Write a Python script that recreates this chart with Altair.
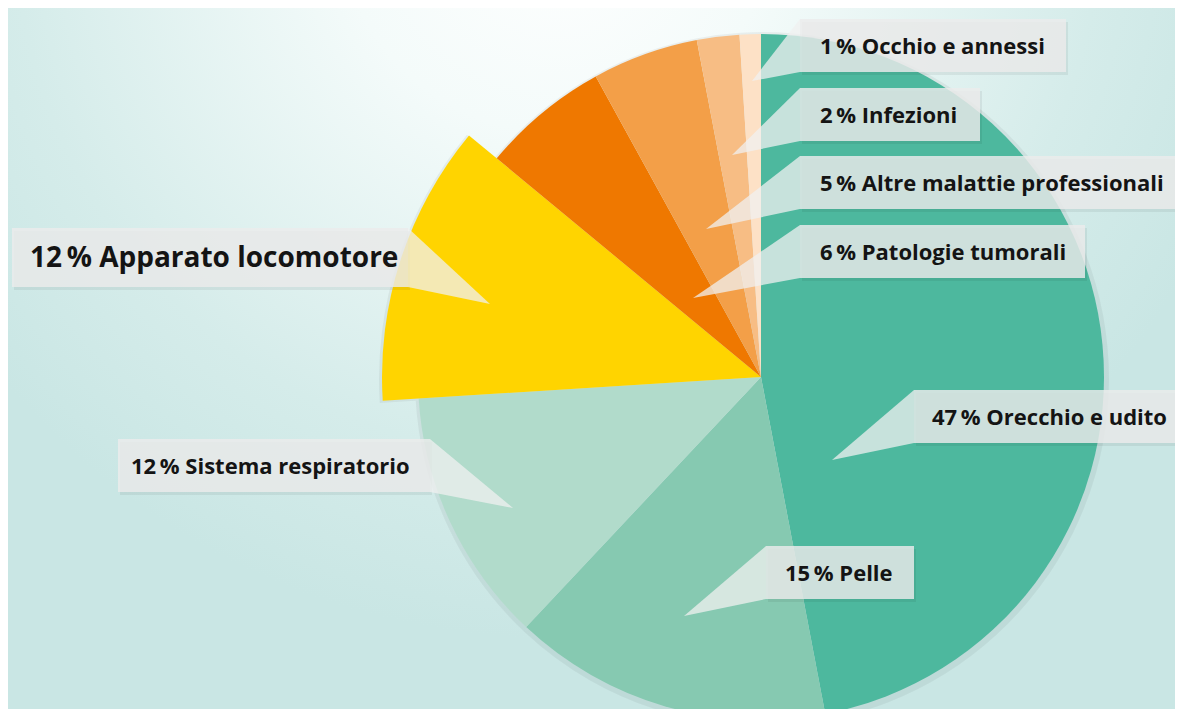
import altair as alt
import pandas as pd

# ---------------- data ----------------
categories = ["Orecchio e udito", "Pelle", "Sistema respiratorio", "Apparato locomotore",
              "Patologie tumorali", "Altre malattie professionali", "Infezioni", "Occhio e annessi"]
percent = [47, 15, 12, 12, 6, 5, 2, 1]
highlighted = ["Apparato locomotore"]

# ---------------- style / layout ----------------
colors = ["#4db89e", "#86c9b1", "#b1dbcb", "#ffd400",
          "#ef7800", "#f39f48", "#f7bd84", "#fde1c6"]
W, H = 1167, 701
CX, CY = 761, 377          # pie centre (page px)
R, R_EXPLODE = 343, 379

# label box layout: box x0, x1, y0, y1, pointer tip x, y, text x, font size
label_layout = {
    "Orecchio e udito":             (914, 1183, 390, 443, 832, 460, 932, 22),
    "Pelle":                        (766, 914, 546, 599, 684, 616, 785, 22),
    "Sistema respiratorio":         (118, 430, 439, 492, 513, 508, 131, 22),
    "Apparato locomotore":          (12, 408, 228, 287, 490, 304, 30, 28),
    "Patologie tumorali":           (800, 1085, 225, 278, 693, 298, 820, 22),
    "Altre malattie professionali": (800, 1182, 156, 209, 706, 229, 820, 22),
    "Infezioni":                    (800, 980, 88, 141, 732, 155, 820, 22),
    "Occhio e annessi":             (800, 1066, 19, 72, 752, 81, 820, 22),
}

pie = pd.DataFrame({"cat": categories, "pct": percent})
pie["end"] = pie["pct"].cumsum()
pie["start"] = pie["end"] - pie["pct"]
pie["r"] = [R_EXPLODE if c in highlighted else R for c in categories]
pie["rs"] = pie["r"] + 4

xs = alt.Scale(domain=[8, 8 + W])
ys = alt.Scale(domain=[8, 8 + H], reverse=True)
ts = alt.Scale(domain=[0, sum(percent)])

boxes, tris, texts = [], [], []
for c, p in zip(categories, percent):
    x0, x1, y0, y1, tx, ty, textx, fs = label_layout[c]
    boxes.append({"cat": c, "x0": x0, "x1": x1, "y0": y0, "y1": y1})
    base = x0 if tx < x0 else x1
    tris.append({"cat": c, "x": tx, "y": ty, "y2": ty})
    tris.append({"cat": c, "x": base, "y": y0, "y2": y1})
    texts.append({"cat": c, "label": f"{p}\u2009% {c}", "x": textx,
                  "y": (y0 + y1) / 2 + 1, "fs": fs})
boxes = pd.DataFrame(boxes)
tris = pd.DataFrame(tris)
texts = pd.DataFrame(texts)

bg = alt.Chart(pd.DataFrame({"a": [0]})).mark_rect(
    fill=alt.Gradient(
        gradient="radial", x1=0.47, y1=0.12, r1=0.0, x2=0.47, y2=0.12, r2=0.62,
        stops=[alt.GradientStop(color="#ffffff", offset=0.0),
               alt.GradientStop(color="#f4fbfa", offset=0.3),
               alt.GradientStop(color="#d5ecea", offset=0.75),
               alt.GradientStop(color="#c9e6e4", offset=1.0)])
).encode(x=alt.value(0), x2=alt.value(W), y=alt.value(0), y2=alt.value(H))

shadow = alt.Chart(pie).mark_arc(color="#000000", opacity=0.05).encode(
    theta=alt.Theta("start:Q", scale=ts, stack=None),
    theta2="end:Q",
    radius=alt.Radius("rs:Q", scale=None),
    x=alt.X(datum=CX + 1, type="quantitative", scale=xs, axis=None),
    y=alt.Y(datum=CY + 2, type="quantitative", scale=ys, axis=None),
)

arcs = alt.Chart(pie).mark_arc(stroke=None).encode(
    theta=alt.Theta("start:Q", scale=ts, stack=None),
    theta2="end:Q",
    radius=alt.Radius("r:Q", scale=None),
    color=alt.Color("cat:N", scale=alt.Scale(domain=categories, range=colors), legend=None),
    x=alt.X(datum=CX, type="quantitative", scale=xs, axis=None),
    y=alt.Y(datum=CY, type="quantitative", scale=ys, axis=None),
)

box_shadow = alt.Chart(boxes).mark_rect(color="#000000", opacity=0.06).encode(
    x=alt.X("x0:Q", scale=xs, axis=None), x2="x1:Q",
    y=alt.Y("y0:Q", scale=ys, axis=None), y2="y1:Q",
).transform_calculate(x0="datum.x0 + 2", x1="datum.x1 + 2",
                      y0="datum.y0 + 3", y1="datum.y1 + 3")

box = alt.Chart(boxes).mark_rect(color="#ececec", opacity=0.82).encode(
    x=alt.X("x0:Q", scale=xs, axis=None), x2="x1:Q",
    y=alt.Y("y0:Q", scale=ys, axis=None), y2="y1:Q",
)

tri = alt.Chart(tris).mark_area(color="#f0f0f0", opacity=0.75, interpolate="linear").encode(
    x=alt.X("x:Q", scale=xs, axis=None),
    y=alt.Y("y:Q", scale=ys, axis=None), y2="y2:Q",
    detail="cat:N",
)

txt = alt.Chart(texts).mark_text(
    align="left", baseline="middle", font="Open Sans", fontWeight="bold", color="#141414"
).encode(
    x=alt.X("x:Q", scale=xs, axis=None),
    y=alt.Y("y:Q", scale=ys, axis=None),
    text="label:N",
    size=alt.Size("fs:Q", scale=None),
)

chart = alt.layer(bg, shadow, arcs, box_shadow, box, tri, txt).properties(
    width=W, height=H, padding=0, autosize=alt.AutoSizeParams(type="none")
).configure_view(stroke=None).configure(background="#d3ebe8")

chart.save("out.html", embed_options={"renderer": "svg", "actions": False})
